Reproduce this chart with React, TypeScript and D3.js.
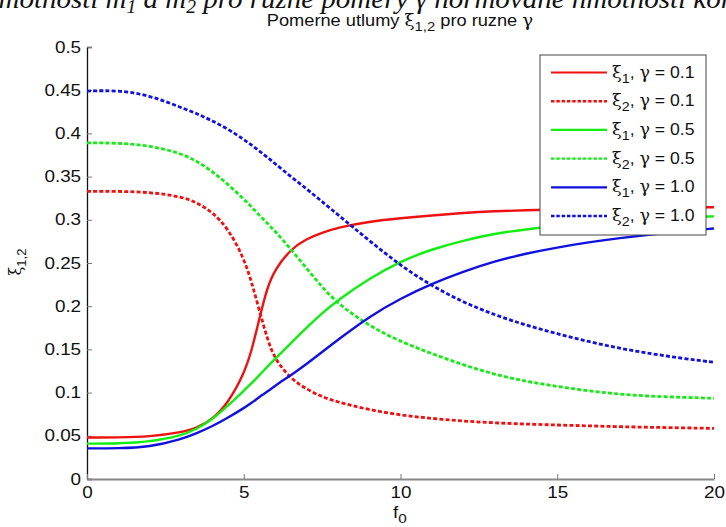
import React, { useEffect, useRef } from 'react'
import { axisBottom, axisLeft, line, curveBasis, scaleLinear, select } from 'd3'

// normalised frequency f0
const fGrid = [0, 1, 2, 3, 3.5, 4, 4.5, 5, 5.25, 5.5, 5.75, 6, 6.5, 7, 7.5, 8, 9, 10, 11, 12, 13, 14, 15, 16, 17, 18, 19, 20]

// xi_1 / xi_2 for gamma = 0.1
const xi1G01 = [0.048, 0.048, 0.049, 0.054, 0.059, 0.069, 0.088, 0.121, 0.148, 0.186, 0.222, 0.243, 0.266, 0.278, 0.285, 0.291, 0.298, 0.302, 0.305, 0.308, 0.310, 0.311, 0.312, 0.313, 0.3135, 0.314, 0.3143, 0.3145]
const xi2G01 = [0.333, 0.333, 0.332, 0.327, 0.320, 0.309, 0.290, 0.256, 0.228, 0.195, 0.162, 0.138, 0.116, 0.104, 0.095, 0.089, 0.080, 0.074, 0.070, 0.067, 0.065, 0.0635, 0.0625, 0.0615, 0.0605, 0.0598, 0.0592, 0.0586]

// gamma = 0.5
const xi1G05 = [0.041, 0.041, 0.043, 0.050, 0.058, 0.069, 0.085, 0.102, 0.111, 0.120, 0.130, 0.139, 0.157, 0.175, 0.192, 0.207, 0.232, 0.252, 0.266, 0.276, 0.284, 0.289, 0.293, 0.296, 0.299, 0.301, 0.3025, 0.304]
const xi2G05 = [0.389, 0.389, 0.386, 0.377, 0.368, 0.356, 0.341, 0.324, 0.315, 0.305, 0.296, 0.287, 0.266, 0.244, 0.222, 0.203, 0.177, 0.159, 0.145, 0.132, 0.121, 0.113, 0.107, 0.102, 0.098, 0.0958, 0.0945, 0.0934]

// gamma = 1.0
const xi1G10 = [0.0355, 0.0355, 0.037, 0.046, 0.053, 0.061, 0.071, 0.082, 0.088, 0.095, 0.101, 0.108, 0.120, 0.133, 0.147, 0.161, 0.188, 0.209, 0.226, 0.240, 0.252, 0.261, 0.268, 0.274, 0.279, 0.283, 0.287, 0.290]
const xi2G10 = [0.449, 0.450, 0.444, 0.430, 0.423, 0.4145, 0.405, 0.393, 0.3865, 0.3795, 0.3725, 0.365, 0.350, 0.336, 0.321, 0.306, 0.276, 0.247, 0.2235, 0.2045, 0.190, 0.178, 0.168, 0.159, 0.151, 0.145, 0.1395, 0.135]

const xTicks = [0, 5, 10, 15, 20]
const yTicks = [0, 0.05, 0.1, 0.15, 0.2, 0.25, 0.3, 0.35, 0.4, 0.45, 0.5]
const yTickLabels = ['0', '0.05', '0.1', '0.15', '0.2', '0.25', '0.3', '0.35', '0.4', '0.45', '0.5']

const series = [
	{ values: xi1G01, sub: '1', gamma: '0.1', color: '#ee1111', dashed: false },
	{ values: xi2G01, sub: '2', gamma: '0.1', color: '#ee1111', dashed: true },
	{ values: xi1G05, sub: '1', gamma: '0.5', color: '#11ee11', dashed: false },
	{ values: xi2G05, sub: '2', gamma: '0.5', color: '#11ee11', dashed: true },
	{ values: xi1G10, sub: '1', gamma: '1.0', color: '#1111dd', dashed: false },
	{ values: xi2G10, sub: '2', gamma: '1.0', color: '#1111dd', dashed: true },
]

const font = '"Liberation Sans", Arial, sans-serif'
const greek = '"DejaVu Serif", "Liberation Serif", serif'
const stretch = 1.18

const App = () => {
	const width = 726
	const height = 527
	const left = 87, right = 714, top = 47, bottom = 479

	const x = scaleLinear().domain([0, 20]).range([left, right])
	const y = scaleLinear().domain([0, 0.5]).range([bottom, top])

	const xRef = useRef(null)
	const yRef = useRef(null)

	useEffect(() => {
		if (yRef.current) {
			const g = select(yRef.current)
			g.call(axisLeft(y).tickValues(yTicks).tickSize(-5).tickPadding(5)
				.tickFormat((d, i) => yTickLabels[i]))
			g.select('.domain').attr('stroke', '#111').attr('stroke-width', 1.3)
			g.selectAll('.tick line').attr('stroke', '#777')
			g.selectAll('.tick text').attr('font-size', 16).attr('font-family', font)
				.attr('fill', '#111').attr('transform', `scale(${stretch},1)`)
		}
		if (xRef.current) {
			const g = select(xRef.current)
			g.call(axisBottom(x).tickValues(xTicks).tickSize(-5).tickPadding(8).tickSizeOuter(0))
			g.select('.domain').attr('stroke', '#888').attr('stroke-width', 2)
			g.selectAll('.tick line').attr('stroke', '#777')
			g.selectAll('.tick text').attr('font-size', 16).attr('font-family', font)
				.attr('fill', '#111').attr('transform', `scale(${stretch},1)`)
		}
	}, [])

	const path = line<number>()
		.x((d, i) => x(fGrid[i]))
		.y(d => y(d))
		.curve(curveBasis)

	const legendX = 540, legendY = 55, legendW = 166, legendH = 180
	const rowH = 28.7

	return (
		<svg width={width} height={height} style={{ position: 'absolute', left: 0, top: 0, background: '#fff' }}>
			{/* cropped figure title above */}
			<text x={-16} y={7.5} fontFamily='"Liberation Serif", "Times New Roman", serif' fontStyle='italic' fontSize={28} fill='#111'
				textLength={748} lengthAdjust='spacingAndGlyphs'>
				hmotnosti m<tspan fontSize={19} dy={5}>1</tspan><tspan dy={-5}> a m</tspan><tspan fontSize={19} dy={5}>2</tspan><tspan dy={-5}> pro ruzne pomery γ normovane hmotnosti kor</tspan>
			</text>

			<text transform={`translate(400, 26) scale(1.14,1)`} textAnchor='middle' fontFamily={font} fontSize={16} fill='#111'>
				Pomerne utlumy <tspan fontFamily={greek}>ξ</tspan><tspan fontSize={13} dy={5}>1,2</tspan><tspan dy={-5}> pro ruzne </tspan><tspan fontFamily={greek}>γ</tspan>
			</text>

			<g ref={yRef} transform={`translate(${left},0)`} />
			<g ref={xRef} transform={`translate(0,${bottom})`} />

			{series.map((s, i) => (
				<path key={`line-${i}`} d={path(s.values) || ''} fill='none' stroke={s.color}
					strokeWidth={s.dashed ? 2.8 : 2.4} strokeDasharray={s.dashed ? '4,2.2' : undefined} />
			))}

			<text transform={`translate(400, 518) scale(${stretch},1)`} textAnchor='middle' fontFamily={font} fontSize={16} fill='#111'>
				f<tspan fontSize={13} dy={5}>0</tspan>
			</text>
			<text transform={`translate(21, 262) rotate(-90)`} textAnchor='middle' fontFamily={font} fontSize={16} fill='#111'>
				<tspan fontFamily={greek}>ξ</tspan><tspan fontSize={13} dy={5}>1,2</tspan>
			</text>

			<g>
				<rect x={legendX} y={legendY} width={legendW} height={legendH} fill='#fff' stroke='#444' strokeWidth={1} />
				{series.map((s, i) => {
					const ly = legendY + 17.5 + i * rowH
					return (
						<g key={`leg-${i}`}>
							<line x1={551} x2={607} y1={ly} y2={ly} stroke={s.color}
								strokeWidth={s.dashed ? 2.4 : 2.2} strokeDasharray={s.dashed ? '3.5,1.8' : undefined} />
							<text transform={`translate(612, ${ly + 5}) scale(1.1,1)`} fontFamily={font} fontSize={16} fill='#111'>
								<tspan fontFamily={greek}>ξ</tspan><tspan fontSize={13} dy={5}>{s.sub}</tspan><tspan dy={-5}>, </tspan><tspan fontFamily={greek}>γ</tspan> = {s.gamma}
							</text>
						</g>
					)
				})}
			</g>
		</svg>
	)
}

export default App
